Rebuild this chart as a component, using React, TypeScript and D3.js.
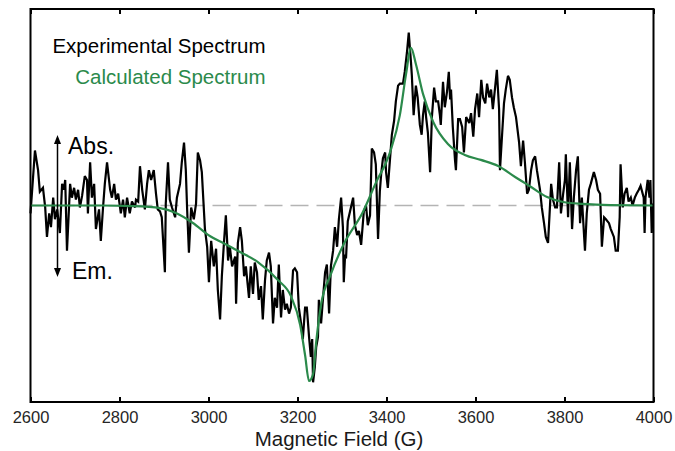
import { useEffect, useRef } from 'react';
import * as d3 from 'd3';

const WIDTH = 675;
const HEIGHT = 451;
const MARGIN = { top: 9, right: 21.5, bottom: 49, left: 30.5 };
const FONT = 'Arial, "Liberation Sans", Helvetica, sans-serif';
const GREEN = '#2b8a4b';

const X_TICKS = [2600, 2800, 3000, 3200, 3400, 3600, 3800, 4000];
const X_DOMAIN: [number, number] = [2600, 4000];
const Y_DOMAIN: [number, number] = [-100, 100];

// [field (G), intensity (a.u.)]
const experimental: [number, number][] = [
  [2600, -4], [2610, 28], [2617, 18], [2621, 7], [2628, 9], [2633, -1], [2637, -16], [2642, -4],
  [2646, -11], [2651, 4], [2655, -7], [2660, -2], [2666, -14], [2671, 11], [2675, 8], [2678, 13],
  [2682, -23], [2689, 11], [2693, 4], [2698, 9], [2702, 3], [2707, 8], [2711, -1], [2716, 5],
  [2722, 15], [2727, 13], [2729, -4], [2734, 22], [2738, 4], [2743, 11], [2747, -12], [2754, -2],
  [2758, -18], [2763, -1], [2767, 11], [2772, 22], [2779, 8], [2783, 4], [2788, 11], [2792, 3],
  [2797, 6], [2803, -4], [2808, 3], [2812, -6], [2817, 4], [2823, -4], [2828, 2], [2835, -1],
  [2837, 3], [2842, 2], [2846, 20], [2851, 8], [2857, -2], [2862, 11], [2866, 18], [2871, 13],
  [2877, 18], [2882, 6], [2886, -2], [2891, -3], [2895, -6], [2902, -34], [2904, 1], [2909, 22],
  [2913, 3], [2918, -1], [2925, -6], [2929, 4], [2936, 11], [2940, 22], [2945, 32], [2949, 18],
  [2952, -2], [2956, -24], [2961, -1], [2967, -7], [2972, 1], [2976, 27], [2981, 23], [2985, 17],
  [2992, -12], [2997, -21], [3001, -39], [3006, -18], [3012, -31], [3017, -22], [3021, -43], [3026, -58],
  [3030, -36], [3035, -18], [3039, -5], [3044, -28], [3048, -21], [3053, -31], [3060, -26], [3062, -50],
  [3066, -19], [3071, -11], [3075, -18], [3080, -36], [3084, -31], [3091, -47], [3095, -31], [3100, -45],
  [3104, -29], [3109, -34], [3113, -48], [3118, -41], [3122, -58], [3127, -38], [3131, -28], [3136, -24],
  [3140, -31], [3145, -60], [3149, -47], [3154, -52], [3158, -30], [3163, -57], [3167, -43], [3172, -53],
  [3176, -50], [3181, -55], [3185, -52], [3190, -33], [3194, -32], [3199, -34], [3203, -52], [3208, -60],
  [3212, -68], [3217, -52], [3221, -52], [3226, -67], [3230, -77], [3233, -68], [3235, -90], [3239, -82],
  [3242, -72], [3246, -67], [3248, -48], [3253, -60], [3257, -48], [3262, -34], [3266, -30], [3271, -55],
  [3275, -31], [3280, -23], [3284, -11], [3289, -21], [3293, -7], [3298, 4], [3302, -11], [3304, -39],
  [3307, -25], [3309, -27], [3313, -8], [3318, -3], [3325, 4], [3329, -10], [3334, -15], [3338, -13],
  [3343, -20], [3349, -3], [3354, 0], [3358, -10], [3363, -5], [3367, 29], [3372, 27], [3376, 21],
  [3381, -17], [3385, 7], [3388, 16], [3392, 24], [3397, 27], [3399, 17], [3403, 9], [3408, 24],
  [3412, 36], [3417, 43], [3421, 53], [3426, 61], [3430, 62], [3437, 62], [3441, 68], [3446, 78],
  [3450, 88], [3455, 73], [3457, 66], [3461, 46], [3466, 61], [3470, 55], [3475, 41], [3479, 36],
  [3482, 46], [3486, 53], [3489, 45], [3493, 37], [3498, 17], [3502, 45], [3507, 60], [3511, 53],
  [3516, 53], [3520, 46], [3522, 41], [3527, 63], [3531, 50], [3536, 58], [3540, 68], [3543, 54],
  [3545, 59], [3549, 40], [3554, 23], [3556, 18], [3561, 44], [3565, 44], [3570, 40], [3574, 27],
  [3579, 45], [3586, 42], [3590, 47], [3595, 35], [3599, 49], [3604, 57], [3608, 45], [3613, 64],
  [3617, 55], [3622, 52], [3626, 62], [3631, 55], [3635, 59], [3639, 49], [3644, 60], [3648, 69],
  [3653, 49], [3655, 18], [3660, 37], [3664, 52], [3668, 59], [3673, 66], [3677, 64], [3682, 55],
  [3686, 50], [3691, 45], [3698, 32], [3702, 20], [3707, 33], [3711, 22], [3716, 6], [3720, 8],
  [3725, 18], [3729, 23], [3734, 25], [3738, 18], [3745, 8], [3749, -1], [3754, -9], [3758, -16],
  [3763, -19], [3767, -2], [3770, 11], [3774, 3], [3779, -1], [3783, -1], [3788, 22], [3792, -4],
  [3797, 6], [3801, 13], [3803, 26], [3808, -6], [3812, 22], [3817, -12], [3821, 4], [3826, 18],
  [3830, 25], [3835, -9], [3839, 4], [3846, -23], [3850, -4], [3855, 8], [3859, 11], [3866, 17],
  [3871, 13], [3875, 8], [3880, 6], [3884, -21], [3889, -6], [3893, -7], [3900, -9], [3904, -12],
  [3911, -16], [3915, -23], [3920, -23], [3924, -6], [3926, 21], [3931, -1], [3935, 6], [3940, 9],
  [3944, 2], [3949, 4], [3953, 0], [3958, 4], [3962, 6], [3967, 8], [3971, 10], [3978, 4],
  [3980, -14], [3982, 4], [3987, 13], [3991, 4], [3993, 13], [3996, -14], [3998, 1],
];

const calculated: [number, number][] = [
  [2600, 0], [2760, 0], [2830, -0.3], [2891, -1.3], [2927, -3.8], [2965, -8.9], [3003, -15.5],
  [3033, -19.1], [3071, -23.7], [3111, -28.8], [3156, -37.9], [3185, -46], [3206, -60.8],
  [3217, -76.1], [3226, -89.3], [3235, -85.8], [3242, -69.5], [3253, -50.4], [3275, -34.9],
  [3304, -19.6], [3347, -3.3], [3376, 11.5], [3408, 27.2], [3430, 46], [3444, 67], [3455, 80.2],
  [3466, 72], [3482, 56.8], [3505, 42.5], [3538, 31.3], [3576, 25.7], [3612, 23.2], [3651, 20.1],
  [3689, 14.5], [3725, 9.4], [3761, 4.3], [3797, 1.8], [3842, 0.8], [3903, 0.2], [4000, 0],
];

export default function App() {
  const svgRef = useRef<SVGSVGElement>(null);

  useEffect(() => {
    if (!svgRef.current) return;
    const svg = d3.select(svgRef.current);
    svg.selectAll('*').remove();

    const innerWidth = WIDTH - MARGIN.left - MARGIN.right;
    const innerHeight = HEIGHT - MARGIN.top - MARGIN.bottom;

    const x = d3.scaleLinear().domain(X_DOMAIN).range([0, innerWidth]);
    const y = d3.scaleLinear().domain(Y_DOMAIN).range([innerHeight, 0]);

    const g = svg.append('g')
      .attr('transform', `translate(${MARGIN.left},${MARGIN.top})`);

    // Zero baseline
    g.append('line')
      .attr('x1', 0)
      .attr('x2', innerWidth)
      .attr('y1', y(0))
      .attr('y2', y(0))
      .attr('stroke', '#b4b4b4')
      .attr('stroke-width', 1.5)
      .attr('stroke-dasharray', '18,8');

    const line = d3.line<[number, number]>()
      .x(d => x(d[0]))
      .y(d => y(d[1]));

    g.append('path')
      .datum(experimental)
      .attr('fill', 'none')
      .attr('stroke', '#000')
      .attr('stroke-width', 2.2)
      .attr('stroke-linejoin', 'miter')
      .attr('stroke-miterlimit', 3)
      .attr('d', line);

    g.append('path')
      .datum(calculated)
      .attr('fill', 'none')
      .attr('stroke', GREEN)
      .attr('stroke-width', 2.2)
      .attr('d', line.curve(d3.curveMonotoneX));

    // Bottom axis, ticks pointing inward
    g.append('g')
      .attr('transform', `translate(0,${innerHeight})`)
      .call(
        d3.axisBottom(x)
          .tickValues(X_TICKS)
          .tickSizeInner(-5)
          .tickSizeOuter(0)
          .tickPadding(9)
          .tickFormat(d3.format('d') as (d: d3.NumberValue) => string)
      )
      .call(a => a.select('.domain').remove())
      .call(a => a.selectAll('.tick line').attr('stroke', '#000').attr('stroke-width', 2))
      .call(a => a.selectAll('.tick text')
        .attr('font-family', FONT)
        .attr('font-size', '16.5px')
        .attr('fill', '#262626'));

    // Top axis, ticks only
    g.append('g')
      .call(
        d3.axisTop(x)
          .tickValues(X_TICKS)
          .tickSizeInner(-5)
          .tickSizeOuter(0)
          .tickFormat(() => '')
      )
      .call(a => a.select('.domain').remove())
      .call(a => a.selectAll('.tick line').attr('stroke', '#000').attr('stroke-width', 2));

    // Frame
    g.append('rect')
      .attr('width', innerWidth)
      .attr('height', innerHeight)
      .attr('fill', 'none')
      .attr('stroke', '#000')
      .attr('stroke-width', 2);

    // X axis label
    svg.append('text')
      .attr('x', MARGIN.left + innerWidth / 2 - 3)
      .attr('y', 446)
      .attr('text-anchor', 'middle')
      .attr('font-family', FONT)
      .attr('font-size', '20.5px')
      .attr('fill', '#1a1a1a')
      .text('Magnetic Field (G)');

    // Legend
    svg.append('text')
      .attr('x', 265.5)
      .attr('y', 52.5)
      .attr('text-anchor', 'end')
      .attr('font-family', FONT)
      .attr('font-size', '20.5px')
      .attr('fill', '#000')
      .text('Experimental Spectrum');

    svg.append('text')
      .attr('x', 265.5)
      .attr('y', 84)
      .attr('text-anchor', 'end')
      .attr('font-family', FONT)
      .attr('font-size', '20.5px')
      .attr('fill', GREEN)
      .text('Calculated Spectrum');

    // Abs./Em. double arrow
    const ax = 57.5;
    const top = 135;
    const bottom = 277;
    svg.append('line')
      .attr('x1', ax).attr('x2', ax)
      .attr('y1', top + 6).attr('y2', bottom - 6)
      .attr('stroke', '#000')
      .attr('stroke-width', 1.5);
    svg.append('path')
      .attr('d', `M${ax},${top} L${ax - 3.5},${top + 9} L${ax + 3.5},${top + 9} Z`)
      .attr('fill', '#000');
    svg.append('path')
      .attr('d', `M${ax},${bottom} L${ax - 3.5},${bottom - 9} L${ax + 3.5},${bottom - 9} Z`)
      .attr('fill', '#000');

    svg.append('text')
      .attr('x', 68)
      .attr('y', 154)
      .attr('font-family', FONT)
      .attr('font-size', '23px')
      .attr('fill', '#000')
      .text('Abs.');

    svg.append('text')
      .attr('x', 72)
      .attr('y', 279)
      .attr('font-family', FONT)
      .attr('font-size', '23px')
      .attr('fill', '#000')
      .text('Em.');
  }, []);

  return (
    <svg
      ref={svgRef}
      width={WIDTH}
      height={HEIGHT}
      style={{ position: 'absolute', left: 0, top: 0, background: '#fff' }}
    />
  );
}
